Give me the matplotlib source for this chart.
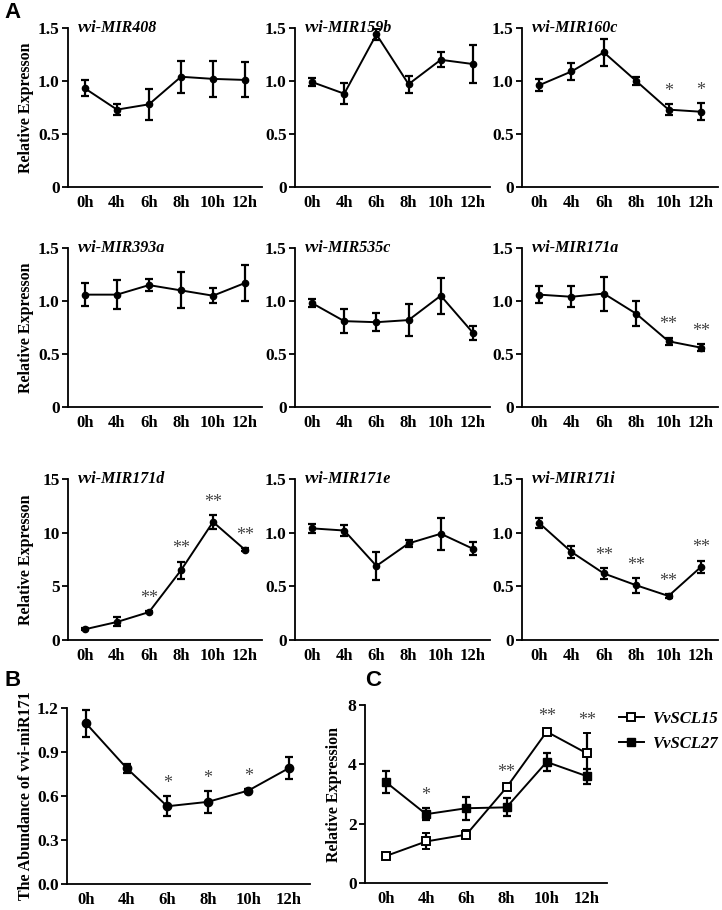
import matplotlib
matplotlib.use("Agg")
import matplotlib.pyplot as plt

hours = ['0h', '4h', '6h', '8h', '10h', '12h']

# panel A: nine miRNA precursors (mean, error, significance)
mir408 = [0.93, 0.73, 0.78, 1.04, 1.02, 1.01]
mir408_err = [0.075, 0.05, 0.145, 0.15, 0.17, 0.165]
mir408_sig = ['', '', '', '', '', '']

mir159b = [0.99, 0.88, 1.44, 0.97, 1.20, 1.16]
mir159b_err = [0.04, 0.10, 0.055, 0.08, 0.07, 0.18]
mir159b_sig = ['', '', '', '', '', '']

mir160c = [0.96, 1.09, 1.27, 1.00, 0.73, 0.71]
mir160c_err = [0.055, 0.08, 0.13, 0.04, 0.055, 0.08]
mir160c_sig = ['', '', '', '', '*', '*']

mir393a = [1.06, 1.06, 1.15, 1.10, 1.05, 1.17]
mir393a_err = [0.11, 0.14, 0.055, 0.17, 0.07, 0.17]
mir393a_sig = ['', '', '', '', '', '']

mir535c = [0.98, 0.81, 0.80, 0.82, 1.05, 0.70]
mir535c_err = [0.04, 0.11, 0.085, 0.15, 0.17, 0.065]
mir535c_sig = ['', '', '', '', '', '']

mir171a = [1.06, 1.04, 1.07, 0.88, 0.62, 0.56]
mir171a_err = [0.08, 0.10, 0.16, 0.12, 0.035, 0.03]
mir171a_sig = ['', '', '', '', '**', '**']

mir171d = [1.0, 1.68, 2.6, 6.5, 11.0, 8.4]
mir171d_err = [0.1, 0.42, 0.1, 0.8, 0.65, 0.15]
mir171d_sig = ['', '', '**', '**', '**', '**']

mir171e = [1.04, 1.02, 0.69, 0.90, 0.99, 0.85]
mir171e_err = [0.04, 0.055, 0.13, 0.035, 0.15, 0.06]
mir171e_sig = ['', '', '', '', '', '']

mir171i = [1.09, 0.82, 0.62, 0.51, 0.41, 0.68]
mir171i_err = [0.05, 0.055, 0.05, 0.07, 0.015, 0.06]
mir171i_sig = ['', '', '**', '**', '**', '**']

# panel B
abund = [1.095, 0.79, 0.53, 0.56, 0.637, 0.79]
abund_err = [0.09, 0.03, 0.068, 0.073, 0.01, 0.073]
abund_sig = ['', '', '*', '*', '*', '']

# panel C
scl15 = [0.91, 1.40, 1.63, 3.22, 5.10, 4.37]
scl15_err = [0.08, 0.27, 0.15, 0.08, 0.07, 0.67]
scl27 = [3.40, 2.32, 2.52, 2.55, 4.08, 3.60]
scl27_err = [0.38, 0.20, 0.39, 0.30, 0.31, 0.25]
scl_sig = ['', '*', '', '**', '**', '**']

SERIF = 'Liberation Serif'
W, H = 722, 910

fig = plt.figure(figsize=(7.22, 9.10), dpi=100)


def rect(x0, y0, x1, y1):
    # pixel box -> figure fraction
    return [x0 / W, 1 - y1 / H, (x1 - x0) / W, (y1 - y0) / H]


def style(ax, ylim, yticks, yticklabels, xlim):
    for s in ['top', 'right']:
        ax.spines[s].set_visible(False)
    for s in ['left', 'bottom']:
        ax.spines[s].set_linewidth(1.3)
    ax.set_xlim(*xlim)
    ax.set_ylim(*ylim)
    ax.set_xticks(range(len(hours)))
    ax.set_xticklabels(hours, fontfamily=SERIF, fontweight='bold', fontsize=12)
    ax.set_yticks(yticks)
    ax.set_yticklabels(yticklabels, fontfamily=SERIF, fontweight='bold', fontsize=12.5)
    ax.tick_params(axis='x', length=0, pad=6)
    ax.tick_params(axis='y', length=4, width=1.3, pad=2)


def stars(ax, vals, errs, sig, off=3):
    for i, s in enumerate(sig):
        if s:
            ax.annotate(s, (i, vals[i] + errs[i]), xytext=(0, off),
                        textcoords='offset points', ha='center', va='bottom',
                        fontfamily=SERIF, fontsize=13, color='#444444')


def series(ax, vals, errs, **kw):
    ax.errorbar(range(len(vals)), vals, yerr=errs, color='black', lw=1.4,
                elinewidth=1.6, capsize=3, capthick=1.6, **kw)


panels = [
    ('vvi-MIR408', mir408, mir408_err, mir408_sig),
    ('vvi-MIR159b', mir159b, mir159b_err, mir159b_sig),
    ('vvi-MIR160c', mir160c, mir160c_err, mir160c_sig),
    ('vvi-MIR393a', mir393a, mir393a_err, mir393a_sig),
    ('vvi-MIR535c', mir535c, mir535c_err, mir535c_sig),
    ('vvi-MIR171a', mir171a, mir171a_err, mir171a_sig),
    ('vvi-MIR171d', mir171d, mir171d_err, mir171d_sig),
    ('vvi-MIR171e', mir171e, mir171e_err, mir171e_sig),
    ('vvi-MIR171i', mir171i, mir171i_err, mir171i_sig),
]
cols = [(68, 262), (295, 490), (522, 718)]
rows = [(28, 187), (248, 407), (479, 640)]

for k, (name, vals, errs, sig) in enumerate(panels):
    r, c = divmod(k, 3)
    ax = fig.add_axes(rect(cols[c][0], rows[r][0], cols[c][1], rows[r][1]))
    series(ax, vals, errs, marker='o', ms=4.5)
    if name == 'vvi-MIR171d':
        style(ax, (0, 15), [0, 5, 10, 15], ['0', '5', '10', '15'], (-0.53, 5.53))
    else:
        style(ax, (0, 1.5), [0, 0.5, 1.0, 1.5], ['0', '0.5', '1.0', '1.5'], (-0.53, 5.53))
    stars(ax, vals, errs, sig)
    ax.text(0.05, 1.0, name, transform=ax.transAxes, va='center', ha='left',
            fontfamily=SERIF, fontweight='bold', fontstyle='italic', fontsize=11.5)
    if c == 0:
        ax.set_ylabel('Relative Expresson', fontfamily=SERIF, fontweight='bold',
                      fontsize=11.5)
        ax.yaxis.set_label_coords(-34 / 194, 0.5)

# panel B
axb = fig.add_axes(rect(67, 708, 310, 884))
series(axb, abund, abund_err, marker='o', ms=6)
style(axb, (0, 1.2), [0, 0.3, 0.6, 0.9, 1.2], ['0.0', '0.3', '0.6', '0.9', '1.2'], (-0.47, 5.52))
stars(axb, abund, abund_err, abund_sig)
axb.set_ylabel('The Abundance of vvi-miR171', fontfamily=SERIF, fontweight='bold',
               fontsize=11.5)
axb.yaxis.set_label_coords(-33 / 243, 0.5)

# panel C
axc = fig.add_axes(rect(365, 705, 607, 883))
series(axc, scl15, scl15_err, marker='s', ms=6, mfc='white', mec='black',
       mew=1.4, label='VvSCL15')
series(axc, scl27, scl27_err, marker='s', ms=6, label='VvSCL27')
style(axc, (0, 6), [0, 2, 4, 6], ['0', '2', '4', '8'], (-0.52, 5.5))
tops = [max(a + ea, b + eb) for a, ea, b, eb in zip(scl15, scl15_err, scl27, scl27_err)]
stars(axc, tops, [0] * len(tops), scl_sig)
axc.set_ylabel('Relative Expression', fontfamily=SERIF, fontweight='bold',
               fontsize=11.5, labelpad=4)
handles, labels = axc.get_legend_handles_labels()
fig.legend([h[0] for h in handles], labels, loc='upper left',
           bbox_to_anchor=(612 / W, 1 - 704 / H), frameon=False, handlelength=1.5,
           handletextpad=0.5, labelspacing=0.55, borderaxespad=0,
           prop={'family': SERIF, 'weight': 'bold', 'style': 'italic', 'size': 12})

# panel letters
for letter, x, y in [('A', 4, 12), ('B', 4, 680), ('C', 340 + 25, 680)]:
    fig.text(x / W, 1 - y / H, letter, fontfamily='Liberation Sans',
             fontweight='bold', fontsize=16, va='center', ha='left')

fig.savefig('out.png', dpi=100)
